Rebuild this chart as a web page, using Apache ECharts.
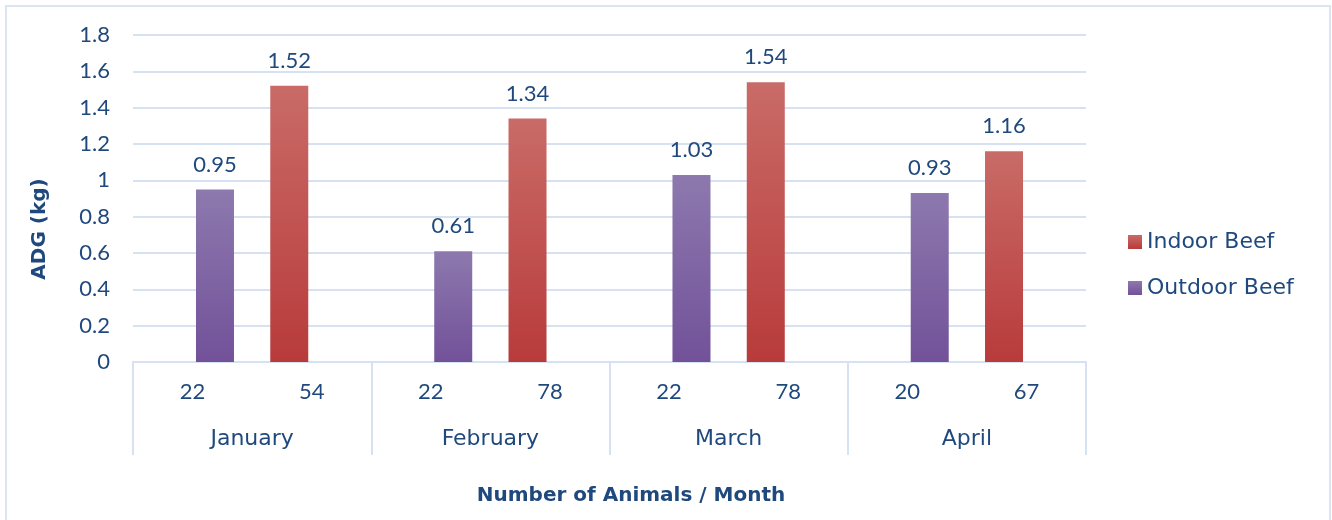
<!DOCTYPE html>
<html>
<head>
<meta charset="utf-8">
<script src="https://cdn.jsdelivr.net/npm/echarts@6/dist/echarts.min.js"></script>
<style>
  html, body { margin: 0; padding: 0; background: #fff; }
  #chart { width: 1332px; height: 520px; }
</style>
</head>
<body>
<div id="chart"></div>
<script>
const months = ["January", "February", "March", "April"];
const animalCounts = ["22", "54", "22", "78", "22", "78", "20", "67"];
const indoorBeef = [null, 1.52, null, 1.34, null, 1.54, null, 1.16];
const outdoorBeef = [0.95, null, 0.61, null, 1.03, null, 0.93, null];

document.addEventListener("DOMContentLoaded", function () {
  const textColor = "#1f497d";
  const lineColor = "#d6e2f1";
  // numbers look fine in Lato, words need a wider face
  const numFont = "Lato, 'Open Sans', sans-serif";
  const wordFont = "'DejaVu Sans', sans-serif";

  const chart = echarts.init(document.getElementById("chart"));
  const option = {
    animation: false,
    textStyle: { fontFamily: numFont, color: textColor },
    grid: { left: 133, right: 246, top: 35, bottom: 158 },
    legend: {
      orient: "vertical",
      left: 1128,
      top: 231,
      padding: 0,
      itemWidth: 14,
      itemHeight: 14,
      itemGap: 24,
      icon: "rect",
      textStyle: { fontSize: 22, color: textColor, fontFamily: wordFont },
      data: ["Indoor Beef", "Outdoor Beef"],
    },
    xAxis: [
      {
        type: "category",
        data: animalCounts,
        axisLine: { lineStyle: { color: lineColor, width: 2 } },
        axisTick: { show: false },
        axisLabel: { fontSize: 22, color: textColor, margin: 19 },
      },
      {
        type: "category",
        data: months,
        position: "bottom",
        axisLine: { show: false },
        axisTick: {
          show: true,
          length: 93,
          lineStyle: { color: lineColor, width: 2 },
        },
        axisLabel: {
          fontSize: 22,
          color: textColor,
          margin: 66,
          fontFamily: wordFont,
        },
      },
    ],
    yAxis: {
      type: "value",
      min: 0,
      max: 1.8,
      interval: 0.2,
      axisLine: { show: false },
      axisTick: { show: false },
      splitLine: { lineStyle: { color: lineColor, width: 2 } },
      axisLabel: {
        fontSize: 22,
        color: textColor,
        margin: 23,
        formatter: function (v) {
          return String(Math.round(v * 10) / 10);
        },
      },
    },
    series: [
      {
        name: "Indoor Beef",
        type: "bar",
        barWidth: 38,
        barGap: "18%",
        itemStyle: {
          color: new echarts.graphic.LinearGradient(0, 0, 0, 1, [
            { offset: 0, color: "#c96b67" },
            { offset: 1, color: "#b83b3b" },
          ]),
        },
        label: {
          show: true,
          position: "top",
          distance: 14,
          fontSize: 22,
          color: textColor,
        },
        data: indoorBeef,
      },
      {
        name: "Outdoor Beef",
        type: "bar",
        barWidth: 38,
        itemStyle: {
          color: new echarts.graphic.LinearGradient(0, 0, 0, 1, [
            { offset: 0, color: "#8d79ae" },
            { offset: 1, color: "#725199" },
          ]),
        },
        label: {
          show: true,
          position: "top",
          distance: 14,
          fontSize: 22,
          color: textColor,
        },
        data: outdoorBeef,
      },
    ],
    graphic: [
      {
        type: "rect",
        shape: { x: 6, y: 6, width: 1324, height: 530 },
        style: { fill: "none", stroke: "#dbe5f2", lineWidth: 2 },
        silent: true,
      },
      {
        type: "text",
        x: 631,
        y: 496,
        style: {
          text: "Number of Animals / Month",
          font: "bold 20px " + wordFont,
          fill: textColor,
          textAlign: "center",
          textVerticalAlign: "middle",
        },
      },
      {
        type: "text",
        x: 40,
        y: 229,
        rotation: Math.PI / 2,
        style: {
          text: "ADG (kg)",
          font: "bold 20px " + wordFont,
          fill: textColor,
          textAlign: "center",
          textVerticalAlign: "middle",
        },
      },
    ],
  };
  chart.setOption(option);
});
</script>
</body>
</html>
